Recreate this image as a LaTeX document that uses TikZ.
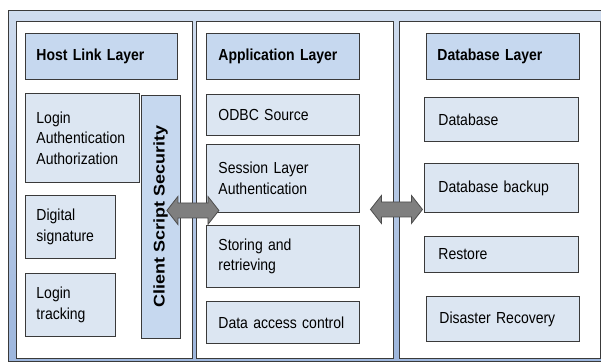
\documentclass[tikz,border=0pt]{standalone}
\usepackage{graphicx}
\usepackage{fontspec}
\setmainfont{Liberation Sans}[FakeStretch=0.875]
\newfontfamily\upright{Liberation Sans}
\usetikzlibrary{calc}

\definecolor{frametop}{HTML}{CFDCEE}
\definecolor{framebot}{HTML}{9DB6DD}
\definecolor{headfill}{HTML}{C6D8EF}
\definecolor{itemfill}{HTML}{DCE6F2}
\definecolor{edge}{HTML}{3A3A3A}
\definecolor{arrowfill}{HTML}{7F7F7F}
\definecolor{arrowedge}{HTML}{4D4D4D}

\newcommand\tierfont{\fontsize{16}{20.5}\selectfont}

\tikzset{
  frame/.style={draw=edge, line width=0.9pt, top color=frametop, bottom color=framebot},
  panel/.style={draw=edge, line width=0.9pt, fill=white, inner sep=0pt},
  headbox/.style={draw=edge, line width=0.9pt, fill=headfill, align=left,
    inner ysep=0pt, font=\tierfont\bfseries},
  itembox/.style={draw=edge, line width=0.9pt, fill=itemfill, align=left,
    inner ysep=0pt, font=\tierfont},
  blockarrow/.style={draw=arrowedge, line width=0.8pt, fill=arrowfill, line join=miter},
  dblarrow/.pic={
    \draw[blockarrow] (-26,0) -- (-15,-14) -- (-15,-7.5) -- (15,-7.5) -- (15,-14)
      -- (26,0) -- (15,14) -- (15,7.5) -- (-15,7.5) -- (-15,14) -- cycle;
  }
}

% \tierbox{style}{name}{left}{top}{right}{bottom}{text inset}{text}
\newcommand\tierbox[8]{%
  \pgfmathsetmacro\tbw{#5-#3}%
  \pgfmathsetmacro\tbh{#6-#4}%
  \pgfmathsetmacro\tbt{#5-#3-2*#7}%
  \node[#1, anchor=north west, inner xsep=#7pt, minimum width=\tbw pt,
    minimum height=\tbh pt, text width=\tbt pt] (#2) at (#3,#4) {#8};%
}

\begin{document}
\begin{tikzpicture}[x=1pt, y=-1pt]
  \useasboundingbox (0,0) rectangle (601,362);

  % outer frame, running past the right and bottom edges
  \path[frame] (8,10) rectangle (614,361.5);

  % the three tiers
  \node[panel, anchor=north west, minimum width=176pt, minimum height=337pt] (hostpanel) at (16,21) {};
  \node[panel, anchor=north west, minimum width=197pt, minimum height=337pt] (apppanel) at (196,21) {};
  \node[panel, anchor=north west, minimum width=201pt, minimum height=337pt] (dbpanel) at (399,21) {};

  % host link layer
  \tierbox{headbox}{hosthead}{25}{33}{177}{79}{11}{Host Link Layer}
  \tierbox{itembox}{login}{25}{93}{139}{182}{11}{Login\\Authentication\\Authorization}
  \tierbox{itembox}{digsig}{25}{195}{115}{258}{11}{Digital\\signature}
  \tierbox{itembox}{tracking}{25}{273}{115}{336}{11}{Login\\tracking}
  \node[draw=edge, line width=0.9pt, fill=headfill, rotate=90, inner sep=0pt,
    minimum width=243pt, minimum height=39pt,
    font=\upright\bfseries\fontsize{18}{20}\selectfont] (secbar) at (160.5,216.5)
    {\scalebox{1}[0.86]{Client Script Security}};

  % application layer
  \tierbox{headbox}{apphead}{206}{33}{359}{79}{12}{Application Layer}
  \tierbox{itembox}{odbc}{206}{94}{359}{135}{12}{ODBC Source}
  \tierbox{itembox}{session}{206}{144}{359}{212}{12}{Session Layer\\Authentication}
  \tierbox{itembox}{storing}{206}{225}{359}{287}{12}{Storing and\\retrieving}
  \tierbox{itembox}{access}{206}{301}{359}{343}{12}{Data access control}

  % database layer
  \tierbox{headbox}{dbhead}{426}{33}{579}{79}{11}{Database Layer}
  \tierbox{itembox}{database}{424}{97}{578}{141}{14}{Database}
  \tierbox{itembox}{backup}{424}{163}{578}{212}{14}{Database backup}
  \tierbox{itembox}{restore}{424}{236}{578}{272}{14}{Restore}
  \tierbox{itembox}{disaster}{426}{296}{579}{341}{13}{Disaster Recovery}

  % links between the tiers
  \coordinate (hostlink) at ($(hostpanel.east)+(0,20.5)$);
  \coordinate (dblink) at ($(apppanel.east)!0.5!(dbpanel.west)+(0,19.5)$);
  \pic at (hostlink) {dblarrow};
  \pic at (dblink) {dblarrow};
\end{tikzpicture}
\end{document}
